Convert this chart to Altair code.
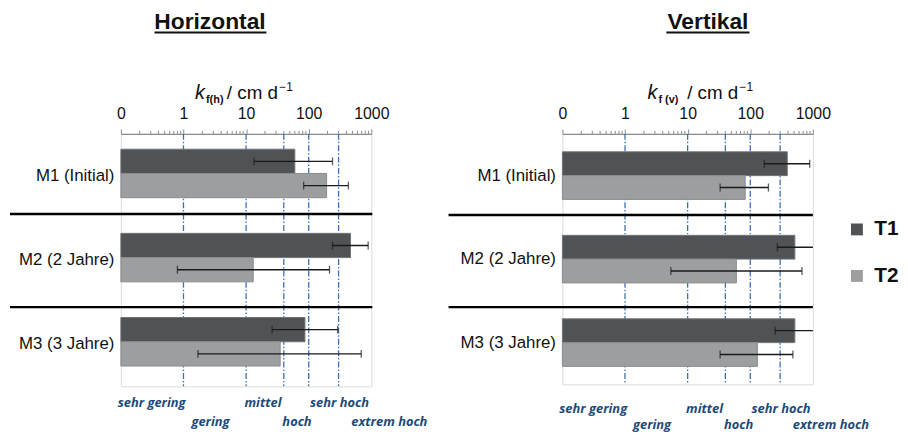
import altair as alt
import pandas as pd

# ---------------- data ----------------
groups = ["M1 (Initial)", "M2 (2 Jahre)", "M3 (3 Jahre)"]
series = ["T1", "T2"]

# Horizontal (kf(h))
h_t1 = [60, 465, 87]
h_t1_lo = [13.4, 240, 26]
h_t1_hi = [240, 890, 290]
h_t2 = [193, 13, 35]
h_t2_lo = [83, 0.8, 1.7]
h_t2_hi = [430, 215, 690]

# Vertikal (kf(v))
v_t1 = [390, 515, 515]
v_t1_lo = [167, 270, 250]
v_t1_hi = [890, 1200, 1200]
v_t2 = [83, 60, 130]
v_t2_lo = [33, 5.4, 33]
v_t2_hi = [195, 670, 480]

tick_values = [0.1, 1, 10, 100, 1000]
tick_labels = ["0", "1", "10", "100", "1000"]
minor_ticks = [k * 10 ** d for d in (-1, 0, 1, 2) for k in range(2, 10)]
thresholds = [1, 10, 40, 100, 300]
class_names = ["sehr gering", "gering", "mittel", "hoch", "sehr hoch", "extrem hoch"]
class_label_x = [0.31, 2.7, 18.6, 65, 310, 1940]
class_row = [0, 1, 0, 1, 0, 1]

bar_colors = ["#505355", "#9c9e9f"]
bar_strokes = ["#707274", "#8a8c8d"]
FONT = "Liberation Sans"

label_expr = " : ".join(
    f"datum.value == {v} ? '{l}'" for v, l in zip(tick_values, tick_labels)
) + " : ''"

x_scale = alt.Scale(type="log", domain=[tick_values[0], tick_values[-1]], nice=False)
x_axis = alt.Axis(
    orient="top", values=tick_values, labelExpr=label_expr, title=None,
    tickSize=5, tickColor="#8c8c8c", domainColor="#8c8c8c", domainWidth=1.5,
    labelPadding=8, labelFontSize=16, labelColor="#111111", labelFont=FONT,
    grid=False, labelFlush=False, labelOverlap=False, labelBound=False,
)
y_scale = alt.Scale(domain=groups, paddingInner=0, paddingOuter=0)
y_axis = alt.Axis(
    title=None, ticks=False, domain=False, labelFontSize=17, labelPadding=7,
    labelColor="#111111", labelFont=FONT, labelLimit=200,
)


def panel(p):
    bars = pd.DataFrame({
        "group": groups * 2,
        "series": ["T1"] * 3 + ["T2"] * 3,
        "value": p["t1"] + p["t2"],
        "lo": p["t1lo"] + p["t2lo"],
        "hi": p["t1hi"] + p["t2hi"],
        "base": tick_values[0],
    })
    caps = bars.melt(id_vars=["group", "series"], value_vars=["lo", "hi"], value_name="v")
    thr = pd.DataFrame({"t": thresholds})
    minor = pd.DataFrame({"m": minor_ticks})
    classes = pd.DataFrame({"name": class_names, "x": class_label_x, "row": class_row})
    one = pd.DataFrame({"a": [0]})

    Y = alt.Y("group:N", scale=y_scale, axis=y_axis, sort=groups)
    YO = alt.YOffset("series:N", scale=alt.Scale(domain=series, paddingInner=0,
                                                 paddingOuter=p["pad"], align=p["align"]))

    thr_layer = alt.Chart(thr).mark_rule(
        color="#3c70b0", strokeDash=[6, 2, 1.5, 2], strokeWidth=1.3
    ).encode(x=alt.X("t:Q", scale=x_scale, axis=x_axis))

    minor_layer = alt.Chart(minor).mark_rule(color="#8c8c8c", strokeWidth=1).encode(
        x=alt.X("m:Q", scale=x_scale, axis=x_axis), y=alt.value(-3), y2=alt.value(0)
    )

    legend = (alt.Legend(
        orient="none", legendX=p["legx"], legendY=p["legy"], title=None,
        symbolType="square", symbolSize=144, symbolStrokeWidth=0, symbolOpacity=1,
        labelFontSize=21, labelFontWeight="bold", labelFont=FONT, labelColor="#111111",
        rowPadding=25, labelOffset=7, padding=0,
    ) if p["legend"] else None)

    bar_layer = alt.Chart(bars).mark_bar(strokeWidth=1, opacity=1).encode(
        x=alt.X("value:Q", scale=x_scale, axis=x_axis),
        x2="base:Q",
        y=Y, yOffset=YO,
        color=alt.Color("series:N", scale=alt.Scale(domain=series, range=bar_colors), legend=legend),
        stroke=alt.Stroke("series:N", scale=alt.Scale(domain=series, range=bar_strokes), legend=None),
    )

    err_layer = alt.Chart(bars).mark_rule(color="#1a1a1a", strokeWidth=1.3, clip=True).encode(
        x=alt.X("lo:Q", scale=x_scale, axis=x_axis), x2="hi:Q", y=Y, yOffset=YO
    )
    cap_layer = alt.Chart(caps).mark_tick(
        color="#1a1a1a", thickness=1.3, size=8, clip=True, orient="vertical"
    ).encode(x=alt.X("v:Q", scale=x_scale, axis=x_axis), y=Y, yOffset=YO)

    layers = [thr_layer, minor_layer, bar_layer, err_layer, cap_layer]

    for sy in p["sep_y"]:
        layers.append(alt.Chart(one).mark_rule(color="black", strokeWidth=2.5).encode(
            x=alt.value(p["sep_x1"]), x2=alt.value(p["sep_x2"]), y=alt.value(sy)))

    for r, ry in enumerate(p["rows_y"]):
        layers.append(alt.Chart(classes).transform_filter(alt.datum.row == r).mark_text(
            font="Open Sans", fontStyle="italic", fontWeight="bold", fontSize=13,
            color="#1d4a7a", align="center", baseline="middle",
        ).encode(x=alt.X("x:Q", scale=x_scale, axis=x_axis), y=alt.value(ry), text="name:N"))

    # panel title with underline
    layers.append(alt.Chart(one).mark_text(
        text=p["title"], font=FONT, fontSize=23, fontWeight="bold", align="center",
        baseline="alphabetic", color="#111111",
    ).encode(x=alt.value(p["tcx"]), y=alt.value(-106)))
    layers.append(alt.Chart(one).mark_rule(color="#111111", strokeWidth=2).encode(
        x=alt.value(p["ul"][0]), x2=alt.value(p["ul"][1]), y=alt.value(-102.5)))

    # axis title  k_f(h) / cm d^-1
    ab = -35
    layers.append(alt.Chart(one).mark_text(
        text="k", font=FONT, fontSize=20, fontStyle="italic", align="left",
        baseline="alphabetic", color="#111111").encode(x=alt.value(p["kx"]), y=alt.value(ab)))
    layers.append(alt.Chart(one).mark_text(
        text=p["sub"], font=FONT, fontSize=11, fontWeight="bold", align="left",
        baseline="alphabetic", color="#111111").encode(x=alt.value(p["subx"]), y=alt.value(ab + 4)))
    layers.append(alt.Chart(one).mark_text(
        text="/ cm d", font=FONT, fontSize=19, align="left",
        baseline="alphabetic", color="#111111").encode(x=alt.value(p["slx"]), y=alt.value(ab)))
    layers.append(alt.Chart(one).mark_text(
        text="\u22121", font=FONT, fontSize=12, align="left",
        baseline="alphabetic", color="#111111").encode(x=alt.value(p["supx"]), y=alt.value(ab - 8)))

    return alt.layer(*layers).properties(width=p["width"], height=p["height"])


left = panel(dict(
    t1=h_t1, t1lo=h_t1_lo, t1hi=h_t1_hi, t2=h_t2, t2lo=h_t2_lo, t2hi=h_t2_hi,
    width=253, height=255, pad=0.735, align=0.43, legend=False, legx=0, legy=0,
    sep_y=[81, 175], sep_x1=-112, sep_x2=254, rows_y=[272, 291],
    title="Horizontal", tcx=90, ul=[34, 147],
    kx=75, sub="f(h)", subx=86, slx=107, supx=160,
))
right = panel(dict(
    t1=v_t1, t1lo=v_t1_lo, t1hi=v_t1_hi, t2=v_t2, t2lo=v_t2_lo, t2hi=v_t2_hi,
    width=253, height=253, pad=0.756, align=0.5, legend=True, legx=287, legy=86,
    sep_y=[82, 175], sep_x1=-115, sep_x2=253, rows_y=[278, 294],
    title="Vertikal", tcx=147, ul=[105, 189],
    kx=86, sub="f  (v)", subx=97, slx=126, supx=179,
))

chart = alt.hconcat(left, right, spacing=193, bounds="flush").resolve_scale(
    x="independent", y="independent", color="independent", stroke="independent",
    yOffset="independent",
).resolve_legend(color="independent", stroke="independent").properties(
    padding=0, background="white"
).configure_view(stroke="#a3a3a3", strokeWidth=1.5).configure(font=FONT)

chart.save("out.html", embed_options={"renderer": "svg", "actions": False})
